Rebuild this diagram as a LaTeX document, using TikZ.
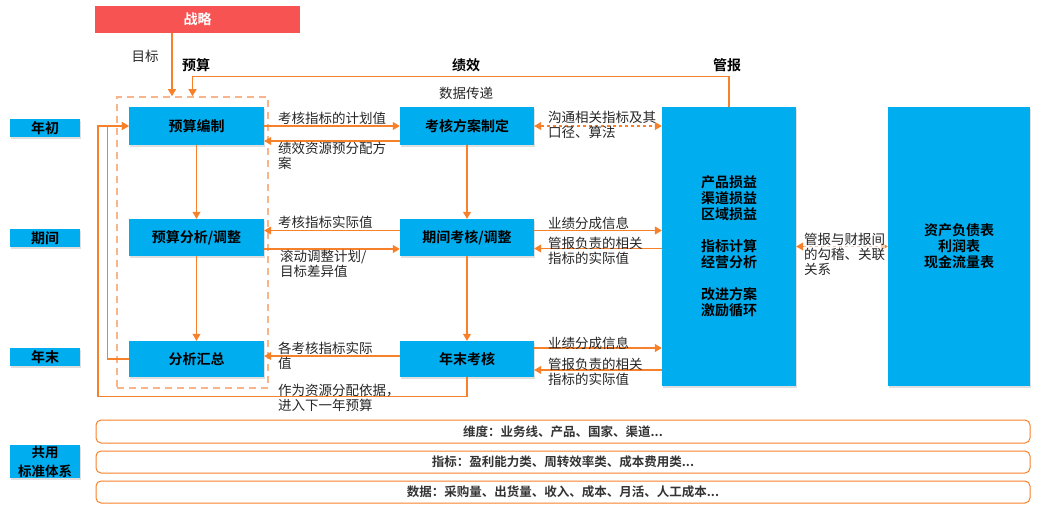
\documentclass[tikz,border=0pt]{standalone}
\usepackage{fontspec}
\setmainfont{Noto Sans CJK SC}[BoldFont={Noto Sans CJK SC Bold}]
\usetikzlibrary{arrows.meta,positioning,shadows,calc}
\definecolor{jxblue}{HTML}{00AEEF}
\definecolor{jxorange}{HTML}{F7802A}
\definecolor{jxlight}{HTML}{F9B48A}
\definecolor{jxred}{HTML}{F75353}
\tikzset{
  blk/.style={rectangle,fill=jxblue,inner sep=0pt,align=center,
    font=\fontsize{14}{16}\selectfont\bfseries,
    drop shadow={opacity=0.25,shadow xshift=1.2pt,shadow yshift=-1.5pt}},
  tag/.style={blk,minimum width=70pt,minimum height=18pt},
  std/.style={rectangle,rounded corners=5pt,draw=jxorange,line width=1pt,
    minimum width=934pt,inner sep=0pt,font=\fontsize{12.5}{15}\selectfont\bfseries,text=black!80},
  lbl/.style={inner sep=0pt,align=left,anchor=west,text=black!85,
    font=\fontsize{13.5}{15}\selectfont},
  head/.style={inner sep=0pt,font=\fontsize{14}{16}\selectfont\bfseries},
  arr/.style={draw=jxorange,line width=1.1pt,-{Triangle[length=7pt,width=8pt]}},
  line/.style={draw=jxorange,line width=1.1pt}
}
\begin{document}
\begin{tikzpicture}[x=1pt,y=-1pt]
  \useasboundingbox (0,0) rectangle (1038,512);
  \path
  (197.5,19.5) node(zl) [rectangle,fill=jxred,minimum width=205pt,minimum height=27pt,text=white,font=\fontsize{14}{16}\selectfont\bfseries] {战略}
  (192.5,242.5) node(yskuang) [rectangle,draw=jxlight,line width=1.6pt,dash pattern=on 7pt off 5pt,minimum width=151pt,minimum height=291pt] {}
  (196.5,126) node(ysbz) [blk,minimum width=135pt,minimum height=38pt] {预算编制}
  (196.5,237.5) node(ysfx) [blk,minimum width=135pt,minimum height=37pt] {预算分析/调整}
  (196.5,359) node(fxhz) [blk,minimum width=135pt,minimum height=36pt] {分析汇总}
  (467,126) node(khfa) [blk,minimum width=134pt,minimum height=38pt] {考核方案制定}
  (467,237.5) node(qjkh) [blk,minimum width=134pt,minimum height=37pt] {期间考核/调整}
  (467,359) node(nmkh) [blk,minimum width=134pt,minimum height=36pt] {年末考核}
  (729,246.5) node(gb) [blk,minimum width=134pt,minimum height=279pt] {产品损益\\渠道损益\\区域损益\\[16pt]指标计算\\经营分析\\[16pt]改进方案\\激励循环}
  (959,246.5) node(cb) [blk,minimum width=142pt,minimum height=279pt] {资产负债表\\利润表\\现金流量表}
  (45,128) node(nc) [tag] {年初}
  (45,238) node(qj) [tag] {期间}
  (45,357) node(nm) [tag] {年末}
  (45,461.5) node(gy) [tag,minimum height=33pt,font=\fontsize{13.5}{19}\selectfont\bfseries] {共用\\标准体系}
  (563,431.5) node(wd) [std,minimum height=23pt] {维度：业务线、产品、国家、渠道...}
  (563,462) node(zb) [std,minimum height=22pt] {指标：盈利能力类、周转效率类、成本费用类...}
  (563,492) node(sj) [std,minimum height=22pt] {数据：采购量、出货量、收入、成本、月活、人工成本...};
  % headers
  \node[head] (hys) at (196,65) {预算};
  \node[head] (hjx) at (466,65) {绩效};
  \node[head] (hgb) at (727,65) {管报};
  \node[lbl,anchor=center] (mb) at (145,56) {目标};
  \node[lbl,anchor=center] (sjcd) at (466,93) {数据传递};
  % top
  \draw[arr] ([xshift=-25.5pt]zl.south) -- ([xshift=-20.5pt]yskuang.north);
  \draw[arr] (gb.north) -- ++(0,-30) -| (yskuang.north);
  % budget column
  \draw[arr] (ysbz) -- (ysfx);
  \draw[arr] (ysfx) -- (fxhz);
  \draw[arr] (khfa) -- (qjkh);
  \draw[arr] (qjkh) -- (nmkh);
  % row 1
  \draw[arr] (ysbz.east) -- (khfa.west);
  \draw[arr] ([yshift=-15pt]khfa.west) -- ([yshift=-15pt]ysbz.east);
  \draw[arr,{Triangle[length=7pt,width=8pt]}-{Triangle[length=7pt,width=8pt]},dashed] (khfa.east) -- (khfa.east -| gb.west);
  \node[lbl] at (278,118) {考核指标的计划值};
  \node[lbl] at (278,155.5) {绩效资源预分配方\\案};
  \node[lbl] at (548,125) {沟通相关指标及其\\口径、算法};
  % row 2
  \draw[arr] ([yshift=7pt]qjkh.west) -- ([yshift=7pt]ysfx.east);
  \draw[arr] ([yshift=-11.5pt]ysfx.east) -- ([yshift=-11.5pt]qjkh.west);
  \draw[arr] ([yshift=7pt]qjkh.east) -- ([yshift=7pt]qjkh.east -| gb.west);
  \draw[arr] ([yshift=-11pt]qjkh.east -| gb.west) -- ([yshift=-11pt]qjkh.east);
  \node[lbl] at (278,222) {考核指标实际值};
  \node[lbl] at (280,264) {滚动调整计划/\\目标差异值};
  \node[lbl] at (548,223) {业绩分成信息};
  \node[lbl] at (548,250.5) {管报负责的相关\\指标的实际值};
  % row 3
  \draw[arr] ([yshift=3pt]nmkh.west) -- ([yshift=3pt]fxhz.east);
  \draw[arr] ([yshift=11pt]nmkh.east) -- ([yshift=11pt]nmkh.east -| gb.west);
  \draw[arr] ([yshift=-11pt]nmkh.east -| gb.west) -- ([yshift=-11pt]nmkh.east);
  \node[lbl] at (278,355.5) {各考核指标实际\\值};
  \node[lbl] at (548,343) {业绩分成信息};
  \node[lbl] at (548,372) {管报负责的相关\\指标的实际值};
  % back to budget
  \draw[arr] (nmkh.south) -- ++(0,19) -- ++(-369,0) |- (ysbz.west);
  \draw[arr] (fxhz.west) -- ++(-21,0) |- (ysbz.west);
  \node[lbl] at (278,397.5) {作为资源分配依据，\\进入下一年预算};
  % finance reports
  \draw[arr,{Triangle[length=7pt,width=8pt]}-{Triangle[length=7pt,width=8pt]},dashed] (gb.east) -- (cb.west);
  \node[lbl,fill=white,fill opacity=0.6,text opacity=1] at (804,254) {管报与财报间\\的勾稽、关联\\关系};
\end{tikzpicture}
\end{document}
